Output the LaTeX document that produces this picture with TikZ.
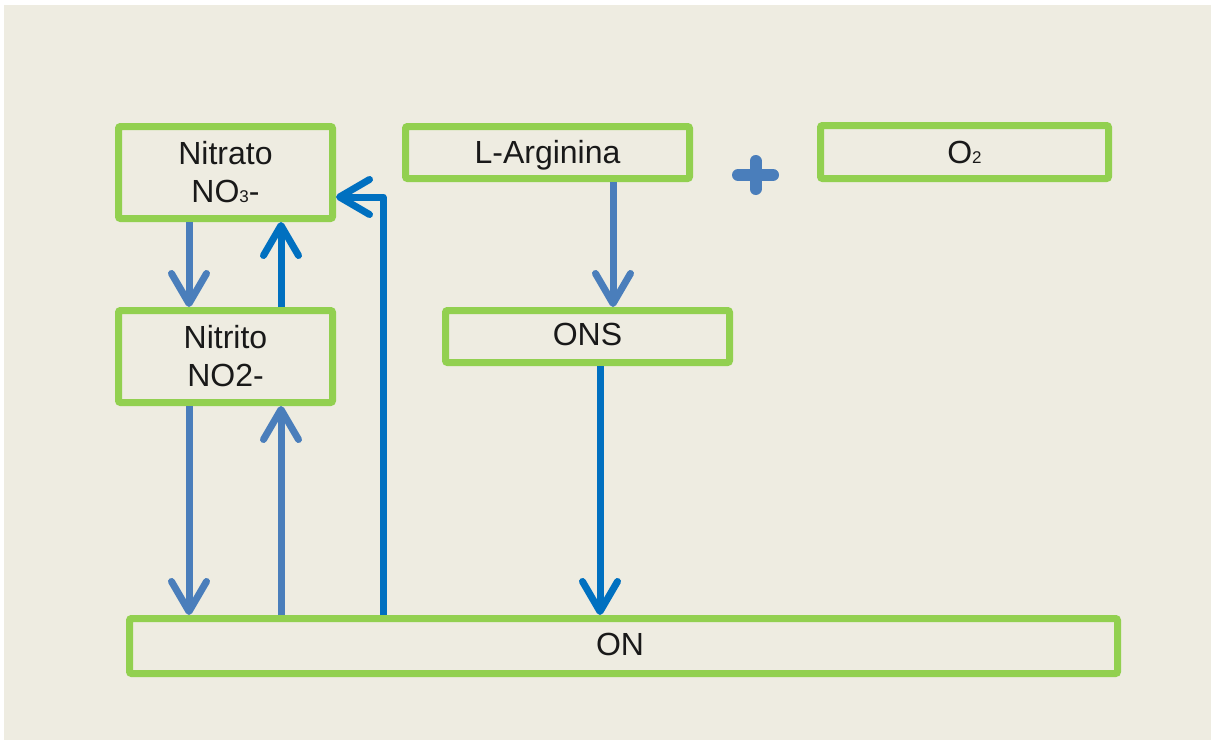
\documentclass[tikz,border=0pt]{standalone}
\usepackage{fontspec}
\setmainfont{Liberation Sans}
\usetikzlibrary{arrows.meta}
\definecolor{bgtan}{HTML}{EEECE1}
\definecolor{boxgreen}{HTML}{92D050}
\definecolor{steel}{HTML}{4A7EBB}
\definecolor{bright}{HTML}{0070C0}
\tikzset{
  x=1pt, y=-1pt,
  box/.style={draw=boxgreen, line width=7pt, rounded corners=2pt, inner sep=0pt,
    align=center, font=\fontsize{32}{38}\selectfont, text=black!90},
  tb/.style={text height=#1, text depth=0pt},
  arr/.style={line width=7pt, line join=round,
    -{Straight Barb[length=30pt, width=35pt, round]}},
  sarr/.style={arr, draw=steel},
  barr/.style={arr, draw=bright},
}
\newcommand{\smallsub}[1]{{\fontsize{17}{17}\selectfont #1}}
\begin{document}
\begin{tikzpicture}
\fill[white] (0,0) rectangle (1212,742);
\fill[bgtan] (4,5) rectangle (1211,740);
\useasboundingbox (0,0) rectangle (1212,742);

\node[box, minimum width=214pt, minimum height=92pt] (nitrato) at (225.5,172.5) {Nitrato\\NO\smallsub{3}-};
\node[box, minimum width=214pt, minimum height=92pt] (nitrito) at (225.5,356.5) {Nitrito\\NO2-};
\node[box, tb=21pt, minimum width=284pt, minimum height=52pt] (arg) at (547.5,152.5) {L-Arginina};
\node[box, tb=17pt, minimum width=284pt, minimum height=52pt] (ons) at (587.5,336.5) {ONS};
\node[box, tb=22pt, minimum width=288pt, minimum height=53pt] (o2) at (964.5,152) {O\smallsub{2}};
\node[box, tb=18pt, minimum width=988pt, minimum height=55pt] (on) at (623.5,646) {\hspace*{-7pt}ON};

\draw[sarr] (nitrato.south -| 189,0) -- (nitrito.north -| 189,0);
\draw[barr] (nitrito.north -| 281,0) -- (nitrato.south -| 281,0);
\draw[sarr] (nitrito.south -| 189,0) -- (on.north -| 189,0);
\draw[sarr] (on.north -| 281,0) -- (nitrito.south -| 281,0);
\draw[barr] (on.north -| 383,0) |- (nitrato.east |- 0,197);
\draw[sarr] (arg.south -| 613,0) -- (ons.north -| 613,0);
\draw[barr] (ons.south -| 600,0) -- (on.north -| 600,0);

\draw[steel, line width=12pt, line cap=round] (738,175) -- (773,175) (755.5,161) -- (755.5,189);
\end{tikzpicture}
\end{document}
